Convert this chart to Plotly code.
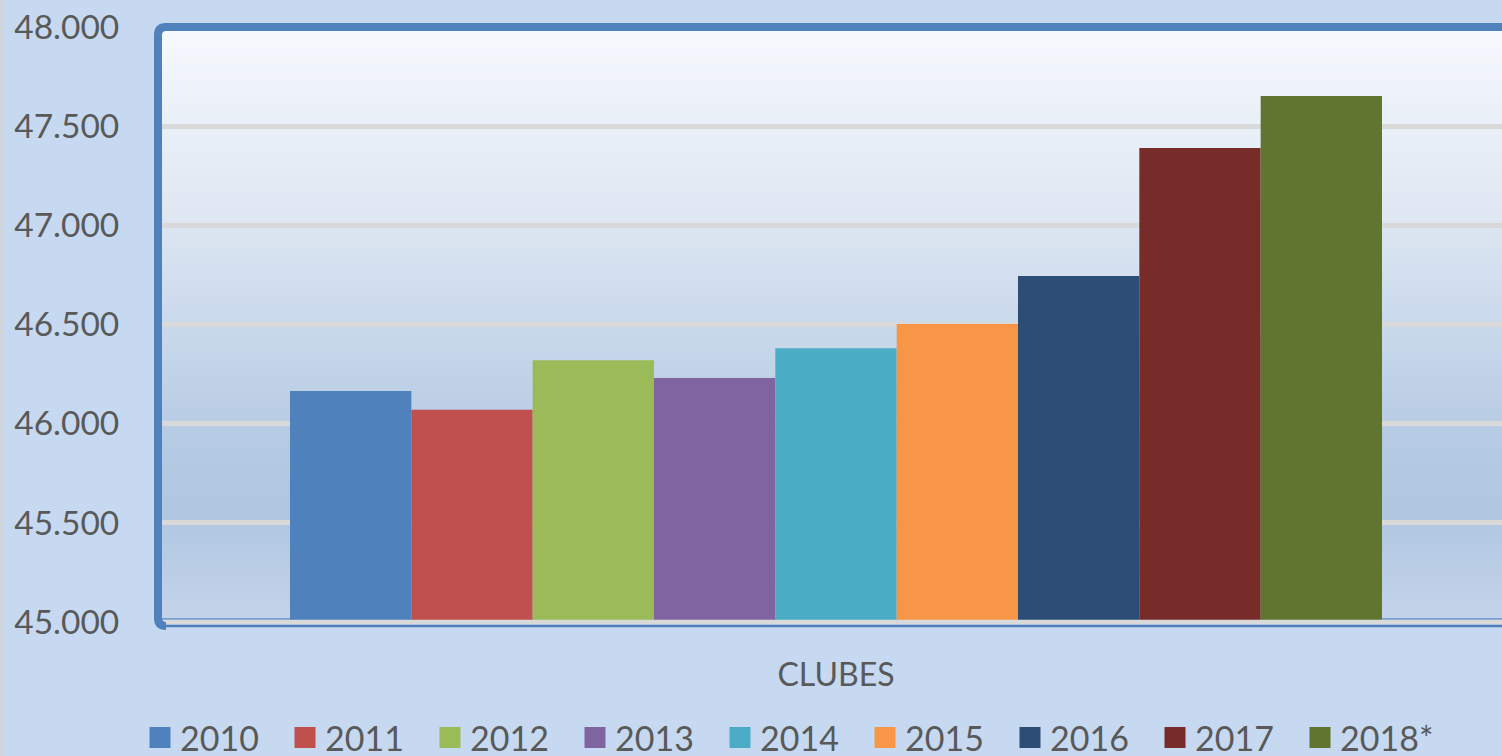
import plotly.graph_objects as go

categories = ["CLUBES"]
years = ["2010", "2011", "2012", "2013", "2014", "2015", "2016", "2017", "2018*"]
values = [46165, 46070, 46320, 46230, 46380, 46503, 46745, 47390, 47652]
colors = ["#4f81bd", "#c0504d", "#9bbb59", "#8064a2", "#4bacc6",
          "#f79646", "#2c4d75", "#772c2a", "#5f7530"]
y_ticks = [45000, 45500, 46000, 46500, 47000, 47500, 48000]

TEXT = "#595959"
FONT = "Lato"

fig = go.Figure()
for yr, v, c in zip(years, values, colors):
    fig.add_trace(go.Bar(x=categories, y=[v], name=yr, marker=dict(color=c, line=dict(width=0)),
                         showlegend=False, hoverinfo="skip"))
# legend entries (larger square symbols)
for yr, c in zip(years, colors):
    fig.add_trace(go.Scatter(x=[None], y=[None], mode="markers", name=yr,
                             marker=dict(symbol="square", size=16, color=c, line=dict(color=c, width=5)),
                             hoverinfo="skip"))

# gradient background of plot area
def hex2rgb(h):
    h = h.lstrip("#")
    return tuple(int(h[i:i + 2], 16) for i in (0, 2, 4))

stops = [(0.0, "#f6f9fd"), (0.33, "#dde6f2"), (0.5, "#c9d9eb"), (0.7, "#b5cae3"),
         (0.82, "#b0c6e1"), (1.0, "#c4d5ea")]

def color_at(t):
    for (t0, c0), (t1, c1) in zip(stops[:-1], stops[1:]):
        if t0 <= t <= t1:
            f = (t - t0) / (t1 - t0) if t1 > t0 else 0
            a, b = hex2rgb(c0), hex2rgb(c1)
            return "rgb(%d,%d,%d)" % tuple(round(a[i] + (b[i] - a[i]) * f) for i in range(3))
    return stops[-1][1]

shapes = []
N = 80
for i in range(N):
    t = (i + 0.5) / N
    shapes.append(dict(type="rect", xref="x domain", yref="y domain", layer="below",
                       x0=0, x1=1, y0=1 - (i + 1) / N - 0.001, y1=1 - i / N,
                       fillcolor=color_at(t), line=dict(width=0)))

PH = 595.0
PW = 1344.0
# bottom lines
shapes.append(dict(type="line", xref="paper", yref="paper", x0=0, x1=1.01, y0=0, y1=0,
                   line=dict(color="#d9d9d9", width=4.5), layer="above"))
shapes.append(dict(type="line", xref="paper", yref="paper", x0=4 / PW, x1=1.01, y0=-4 / PH, y1=-4 / PH,
                   line=dict(color="#4f81bd", width=2.5), layer="above"))
shapes.append(dict(type="line", xref="paper", yref="paper", x0=4 / PW, x1=1.01, y0=3 / PH, y1=3 / PH,
                   line=dict(color="#5b8cc8", width=1.5), layer="below"))
# left + top thick border with rounded corner
rx = 8 / PW
ry = 8 / PH
yb = -4 / PH
shapes.append(dict(type="path", xref="paper", yref="paper", layer="above",
                   path=f"M {rx},{yb} Q 0,{yb} 0,{yb + ry} L 0,{1 - ry} Q 0,1 {rx},1 L 1.01,1",
                   line=dict(color="#4f81bd", width=8)))
# thin gray strip at the far left
shapes.append(dict(type="line", xref="paper", yref="paper", x0=-157 / PW, x1=-157 / PW,
                   y0=-134 / PH, y1=1 + 27 / PH, line=dict(color="#d4d4d4", width=3)))

fig.update_layout(
    width=1502, height=756, autosize=False,
    margin=dict(l=158, r=0, t=27, b=134, pad=0),
    paper_bgcolor="#c6d9f1", plot_bgcolor="rgba(0,0,0,0)",
    font=dict(family=FONT, color=TEXT),
    separators=",.",
    barmode="group", bargap=0.1875, bargroupgap=0,
    shapes=shapes,
    xaxis=dict(type="category", range=[-0.50446, 0.49554], showgrid=False, zeroline=False,
               showline=False, ticks="outside", ticklen=25, tickcolor="rgba(0,0,0,0)",
               tickfont=dict(size=32, color=TEXT, family=FONT)),
    yaxis=dict(range=[45000, 48000], tickmode="array", tickvals=y_ticks, tickformat=",d",
               showgrid=True, gridcolor="#d9d9d9", gridwidth=4.5, zeroline=False, showline=False,
               ticks="outside", ticklen=31, tickcolor="rgba(0,0,0,0)",
               tickfont=dict(size=33.5, color=TEXT, family=FONT)),
    legend=dict(orientation="h", xref="container", yref="container", x=140 / 1502, xanchor="left",
                y=18 / 756, yanchor="middle", bgcolor="rgba(0,0,0,0)", itemsizing="trace",
                font=dict(size=34, color=TEXT, family=FONT), entrywidth=100, entrywidthmode="pixels",
                traceorder="normal"),
    showlegend=True,
)

fig.write_html("out.html", config={"displayModeBar": False},
               post_script="document.body.style.margin='0';document.body.style.overflow='hidden';")
